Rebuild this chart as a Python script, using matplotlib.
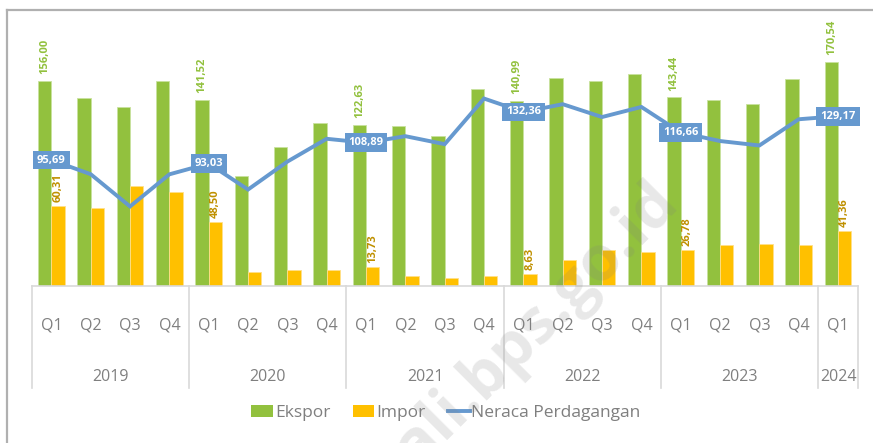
import matplotlib
matplotlib.use("Agg")
import matplotlib.pyplot as plt
from matplotlib.lines import Line2D
from matplotlib.patches import Patch
import matplotlib.transforms as mtrans
import numpy as np

years = ["2019", "2020", "2021", "2022", "2023", "2024"]
quarters = ["Q1", "Q2", "Q3", "Q4"] * 5 + ["Q1"]
ekspor = [156.00, 143.3, 136.4, 155.7,
          141.52, 83.9, 106.0, 123.6,
          122.63, 121.3, 113.7, 149.9,
          140.99, 158.0, 156.0, 161.6,
          143.44, 141.2, 138.4, 157.5,
          170.54]
impor = [60.31, 58.9, 75.7, 71.1,
         48.50, 10.2, 11.5, 12.0,
         13.73, 7.4, 5.6, 6.9,
         8.63, 19.6, 27.3, 25.2,
         26.78, 30.6, 31.4, 30.6,
         41.36]
neraca = [95.69, 84.9, 60.3, 84.8,
          93.03, 73.2, 94.5, 111.9,
          108.89, 113.9, 107.8, 142.6,
          132.36, 138.3, 128.5, 136.2,
          116.66, 110.2, 106.8, 126.8,
          129.17]
label_idx = [0, 4, 8, 12, 16, 20]

def fmt(v):
    return f"{v:.2f}".replace(".", ",")

W, H = 873, 443
fig = plt.figure(figsize=(W / 100, H / 100), dpi=100)
plt.rcParams['font.family'] = ['Open Sans', 'DejaVu Sans']

base_px, top_px = 285.5, 20
ax = fig.add_axes([31.7 / W, 1 - base_px / H, (857.7 - 31.7) / W, (base_px - top_px) / H])
n = len(ekspor)
x = np.arange(n)
ymax = (base_px - top_px) / 1.311
ax.set_xlim(-0.5, n - 0.5)
ax.set_ylim(0, ymax)
for s in ax.spines.values():
    s.set_visible(False)
ax.set_xticks([])
ax.set_yticks([])

green = "#92C13E"
yellow = "#FFC000"
blue = "#6699CF"
bw = 0.34
ax.bar(x - bw / 2, ekspor, bw, color=green, edgecolor="#C9E29E", linewidth=0.6, zorder=2)
ax.bar(x + bw / 2, impor, bw, color=yellow, edgecolor="#FFE08A", linewidth=0.6, zorder=2)
ax.plot(x, neraca, color=blue, linewidth=2.8, zorder=3, solid_joinstyle="miter")

for i in label_idx:
    ax.annotate(fmt(ekspor[i]), (x[i] - bw / 2, ekspor[i]), xytext=(0, 5),
                textcoords="offset points", rotation=90, ha="center", va="bottom",
                fontsize=8, fontweight="bold", color=green, zorder=5)
    ax.annotate(fmt(impor[i]), (x[i] + bw / 2, impor[i]), xytext=(0, 3),
                textcoords="offset points", rotation=90, ha="center", va="bottom",
                fontsize=8, fontweight="bold", color="#BF9000", zorder=5)
    ax.text(x[i], neraca[i], fmt(neraca[i]), ha="center", va="center",
            fontsize=8, fontweight="bold", color="white", zorder=6,
            bbox=dict(boxstyle="square,pad=0.35", facecolor=blue, edgecolor="none"))

# category axis
trans = mtrans.blended_transform_factory(ax.transData, ax.transAxes)
axh = base_px - top_px
grid_c = "#D9D9D9"
ax.plot([-0.5, n - 0.5], [0, 0], color=grid_c, lw=1.2, transform=trans, clip_on=False, zorder=4)
seps = [-0.5, 3.5, 7.5, 11.5, 15.5, 19.5, 20.5]
for s in seps:
    ax.plot([s, s], [0, -102.5 / axh], color=grid_c, lw=1.2, transform=trans, clip_on=False)
txt_c = "#7F7F7F"
for i, q in enumerate(quarters):
    ax.text(x[i], -(326 - base_px) / axh, q, transform=trans, ha="center", va="center",
            fontsize=11.5, color=txt_c)
for k, yname in enumerate(years):
    c = (seps[k] + seps[k + 1]) / 2
    ax.text(c, -(377 - base_px) / axh, yname, transform=trans, ha="center", va="center",
            fontsize=11.5, color=txt_c)

# legend
handles = [Patch(facecolor=green, edgecolor="none"),
           Patch(facecolor=yellow, edgecolor="none"),
           Line2D([0], [0], color=blue, lw=2.8)]
leg = fig.legend(handles, ["Ekspor", "Impor", "Neraca Perdagangan"], loc="center",
                 bbox_to_anchor=(446 / W, 1 - 413 / H), ncol=3, frameon=False,
                 fontsize=12.5, handlelength=1.25, handleheight=0.65, handletextpad=0.1,
                 columnspacing=1.3, labelcolor=txt_c)

# outer frame (left and top)
fig.add_artist(Line2D([6.8 / W, 6.8 / W], [0, 1 - 9.5 / H], color="#B0B0B0", lw=1.6,
                      transform=fig.transFigure))
fig.add_artist(Line2D([6.8 / W, 1], [1 - 9.5 / H, 1 - 9.5 / H], color="#B0B0B0", lw=1.6,
                      transform=fig.transFigure))

# watermark
fig.text(668 / W, 1 - 192 / H, "bali.bps.go.id", ha="right", va="center", rotation=45,
         rotation_mode="anchor", fontsize=45, fontweight="bold", color="#808080", alpha=0.18,
         zorder=10)

fig.savefig("out.png", dpi=100)
